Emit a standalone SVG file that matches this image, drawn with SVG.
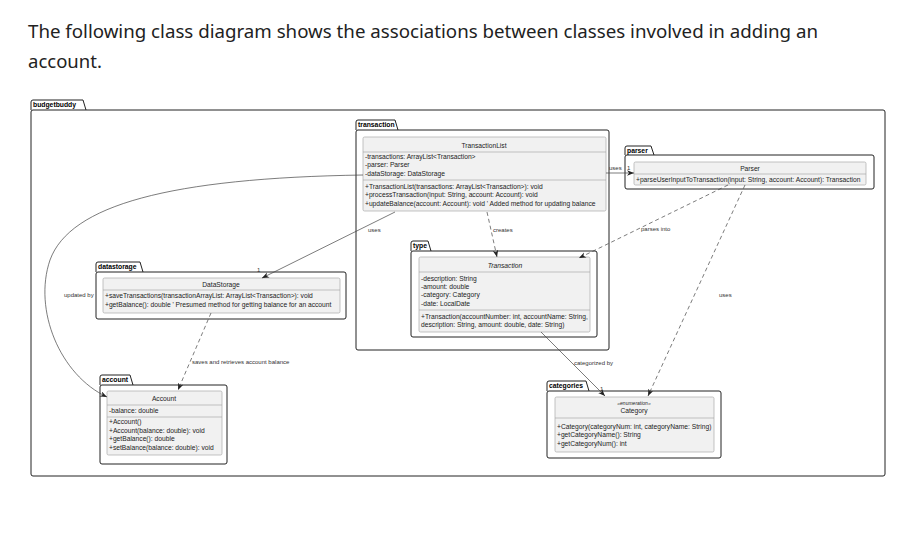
<svg xmlns="http://www.w3.org/2000/svg" width="921" height="535" viewBox="0 0 921 535">
<style>
.h{font-family:"Noto Sans","Open Sans",sans-serif;font-size:18.5px;fill:#222}
.t{font-family:"Liberation Sans",Arial,sans-serif;font-size:6.7px;fill:#222}
.c{text-anchor:middle}
.i{font-style:italic}
.tab{font-family:"Liberation Sans",Arial,sans-serif;font-size:6.8px;font-weight:bold;fill:#000}
.pk{fill:none;stroke:#222;stroke-width:1}
.cls{fill:#F1F1F1;stroke:#aaa;stroke-width:0.7}
.sep{stroke:#aaa;stroke-width:0.7}
.ln{fill:none;stroke:#444;stroke-width:0.7}
.ds{stroke-dasharray:4,3}
.lb{font-family:"Liberation Sans",Arial,sans-serif;font-size:6px;fill:#333}
</style>
<defs>
<marker id="ar" viewBox="0 0 10 8" refX="10" refY="4" markerWidth="7" markerHeight="6" orient="auto" markerUnits="userSpaceOnUse">
<path d="M0,0 L10,4 L0,8 L3,4 z" fill="#222"/>
</marker>
</defs>
<rect width="921" height="535" fill="#fff"/>
<text class="h" x="28" y="38" textLength="790" lengthAdjust="spacingAndGlyphs">The following class diagram shows the associations between classes involved in adding an</text>
<text class="h" x="28" y="68">account.</text>

<g id="budgetbuddy">
<path class="pk" d="M31,110 L31,102 Q31,100 33,100 L83,100 L86,110"/>
<rect class="pk" x="31" y="110" width="854" height="366" rx="2"/>
<text class="tab" x="33" y="107">budgetbuddy</text>
</g>

<g id="transaction">
<path class="pk" d="M356,130 L356,122 Q356,120 358,120 L395,120 L398,130"/>
<rect class="pk" x="356" y="130" width="253" height="220" rx="2"/>
<text class="tab" x="358" y="127">transaction</text>
</g>

<g id="TransactionList">
<rect class="cls" x="363" y="137" width="243" height="74" rx="1.5"/>
<text class="t c" x="484" y="148">TransactionList</text>
<line class="sep" x1="363" y1="152" x2="606" y2="152"/>
<text class="t" x="365" y="159">-transactions: ArrayList&lt;Transaction&gt;</text>
<text class="t" x="365" y="167">-parser: Parser</text>
<text class="t" x="365" y="176">-dataStorage: DataStorage</text>
<line class="sep" x1="363" y1="180" x2="606" y2="180"/>
<text class="t" x="365" y="189">+TransactionList(transactions: ArrayList&lt;Transaction&gt;): void</text>
<text class="t" x="365" y="197">+processTransaction(input: String, account: Account): void</text>
<text class="t" x="365" y="206">+updateBalance(account: Account): void  ' Added method for updating balance</text>
</g>

<g id="parser">
<path class="pk" d="M625,155 L625,148 Q625,146 627,146 L651,146 L654,155"/>
<rect class="pk" x="625" y="155" width="249" height="34" rx="2"/>
<text class="tab" x="627" y="153">parser</text>
</g>

<g id="Parser">
<rect class="cls" x="634" y="162" width="232" height="23" rx="1.5"/>
<text class="t c" x="750" y="171">Parser</text>
<line class="sep" x1="634" y1="174" x2="866" y2="174"/>
<text class="t" x="636" y="182">+parseUserInputToTransaction(input: String, account: Account): Transaction</text>
</g>

<g id="datastorage">
<path class="pk" d="M96,272 L96,264 Q96,262 98,262 L140,262 L143,272"/>
<rect class="pk" x="96" y="272" width="250" height="47" rx="2"/>
<text class="tab" x="98" y="269">datastorage</text>
</g>

<g id="DataStorage">
<rect class="cls" x="103" y="278" width="237" height="35" rx="1.5"/>
<text class="t c" x="221" y="287">DataStorage</text>
<line class="sep" x1="103" y1="290" x2="340" y2="290"/>
<text class="t" x="105" y="298">+saveTransactions(transactionArrayList: ArrayList&lt;Transaction&gt;): void</text>
<text class="t" x="105" y="307">+getBalance(): double ' Presumed method for getting balance for an account</text>
</g>

<g id="type">
<path class="pk" d="M411,251 L411,243 Q411,241 413,241 L428,241 L431,251"/>
<rect class="pk" x="411" y="251" width="186" height="86" rx="2"/>
<text class="tab" x="413" y="248">type</text>
</g>

<g id="Transaction">
<rect class="cls" x="419" y="257" width="171" height="75" rx="1.5"/>
<text class="t c i" x="505" y="268">Transaction</text>
<line class="sep" x1="419" y1="272" x2="590" y2="272"/>
<text class="t" x="421" y="281">-description: String</text>
<text class="t" x="421" y="289">-amount: double</text>
<text class="t" x="421" y="297">-category: Category</text>
<text class="t" x="421" y="306">-date: LocalDate</text>
<line class="sep" x1="419" y1="310" x2="590" y2="310"/>
<text class="t" x="421" y="319">+Transaction(accountNumber: int, accountName: String,</text>
<text class="t" x="421" y="327">description: String, amount: double, date: String)</text>
</g>

<g id="account">
<path class="pk" d="M100,385 L100,377 Q100,375 102,375 L130,375 L133,385"/>
<rect class="pk" x="100" y="385" width="127" height="79" rx="2"/>
<text class="tab" x="102" y="382">account</text>
</g>

<g id="Account">
<rect class="cls" x="107" y="391" width="115" height="64" rx="1.5"/>
<text class="t c" x="164" y="401">Account</text>
<line class="sep" x1="107" y1="405" x2="222" y2="405"/>
<text class="t" x="109" y="413">-balance: double</text>
<line class="sep" x1="107" y1="417" x2="222" y2="417"/>
<text class="t" x="109" y="424">+Account()</text>
<text class="t" x="109" y="433">+Account(balance: double): void</text>
<text class="t" x="109" y="441">+getBalance(): double</text>
<text class="t" x="109" y="450">+setBalance(balance: double): void</text>
</g>

<g id="categories">
<path class="pk" d="M547,391 L547,383 Q547,381 549,381 L586,381 L589,391"/>
<rect class="pk" x="547" y="391" width="174" height="67" rx="2"/>
<text class="tab" x="549" y="388">categories</text>
</g>

<g id="Category">
<rect class="cls" x="555" y="397" width="159" height="55" rx="1.5"/>
<text class="t c i" x="634" y="405" style="font-size:5px">«enumeration»</text>
<text class="t c" x="634" y="413">Category</text>
<line class="sep" x1="555" y1="418" x2="714" y2="418"/>
<text class="t" x="557" y="429">+Category(categoryNum: int, categoryName: String)</text>
<text class="t" x="557" y="437">+getCategoryName(): String</text>
<text class="t" x="557" y="446">+getCategoryNum(): int</text>
</g>

<g id="connectors">
<line class="ln" x1="606" y1="173" x2="634" y2="173" marker-end="url(#ar)"/>
<text class="lb" x="609" y="170">uses</text>
<text class="lb" x="627" y="170">1</text>

<line class="ln" x1="395" y1="212" x2="262" y2="278" marker-end="url(#ar)"/>
<text class="lb" x="368" y="232">uses</text>
<text class="lb" x="257" y="272">1</text>

<line class="ln ds" x1="487" y1="212" x2="497" y2="257" marker-end="url(#ar)"/>
<text class="lb" x="493" y="232">creates</text>

<line class="ln ds" x1="728" y1="185" x2="579" y2="258" marker-end="url(#ar)"/>
<text class="lb" x="641" y="231">parses into</text>

<line class="ln ds" x1="745" y1="185" x2="648" y2="396" marker-end="url(#ar)"/>
<text class="lb" x="719" y="297">uses</text>

<line class="ln" x1="541" y1="332" x2="605" y2="396" marker-end="url(#ar)"/>
<text class="lb" x="574" y="365">categorized by</text>
<text class="lb" x="600" y="391">1</text>

<line class="ln ds" x1="211" y1="313" x2="178" y2="390" marker-end="url(#ar)"/>
<text class="lb" x="192" y="364">saves and retrieves account balance</text>

<path class="ln" d="M363,175 C170,178 70,205 50,260 C33,310 60,375 107,397" marker-end="url(#ar)"/>
<text class="lb" x="64" y="297">updated by</text>
</g>
</svg>
